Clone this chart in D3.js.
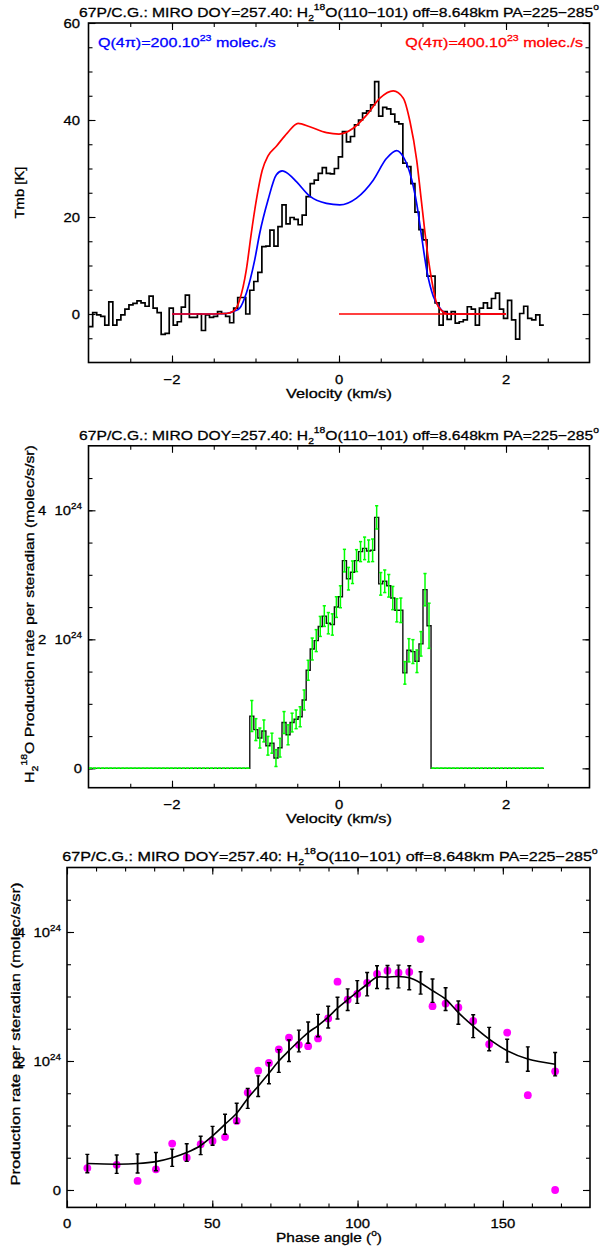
<!DOCTYPE html>
<html>
<head>
<meta charset="utf-8">
<script src="https://cdn.jsdelivr.net/npm/d3@7"></script>
<style>
  html, body { margin: 0; padding: 0; background: #fff; }
  svg { display: block; font-family: "Liberation Sans", Arial, Helvetica, sans-serif; }
</style>
</head>
<body>
<svg id="chart" width="600" height="1249"></svg>
<script>
// ---------------- data ----------------
// Spectral channels: lower edge of the first channel and channel width (km/s)
const chanFirstEdge = -2.998;
const chanWidth = 0.04824;

// Observed H2-18O line, main-beam temperature per channel (K)
const tmbValues = [
  -2.6,
  0.3, -0.2, -0.5, -2.3, 2.5, -2.3, -1.2, -0.2, 1.0, 1.9,
  2.2, 2.7, 2.3, 1.6, 3.7, 1.2, 0.3, -4.2, -4.0, 1.2,
  -2.3, -1.6, 1.4, 3.9, -0.7, -0.7, 0.0, -3.4, -0.2, -0.7,
  -0.5, 0.5, 0.1, -0.5, -1.8, 1.2, 3.4, 3.4, 0.0, 4.9,
  6.7, 8.6, 13.9, 14.0, 17.3, 14.0, 18.0, 22.5, 18.6, 19.9,
  19.5, 18.4, 20.4, 24.2, 26.9, 27.6, 29.0, 30.2, 29.0, 28.9,
  30.0, 32.4, 37.6, 35.5, 36.6, 39.0, 40.0, 41.4, 41.9, 43.1,
  47.9, 40.8, 42.6, 42.3, 41.2, 39.6, 39.2, 31.1, 30.4, 26.9,
  21.0, 17.4, 15.3, 7.8, 7.8, 2.3, -2.3, 0.5, -1.1, 0.5,
  -1.9, -1.6, -1.2, 1.5, 1.0, -2.3, 1.2, 2.3, 1.2, 3.2,
  4.3, 1.0, -0.9, 2.8, -1.2, -5.2, 0.1, 1.6, -0.9, -1.2,
  -0.2, -2.3
];

// Model spectra [velocity km/s, Tmb K]
const modelQ200 = [
  [-2.0, 0], [-1.5, 0], [-1.35, 0.1], [-1.25, 0.6], [-1.19, 1.2], [-1.11, 4.3],
  [-1.01, 11.1], [-0.95, 16.6], [-0.85, 23.5], [-0.75, 28.7], [-0.68, 29.5],
  [-0.60, 28.8], [-0.51, 27.3], [-0.35, 24.3], [-0.15, 22.8], [0.01, 22.5],
  [0.21, 23.9], [0.41, 27.6], [0.57, 32.1], [0.69, 33.7], [0.77, 32.4],
  [0.85, 29.0], [0.93, 22.8], [0.99, 15.9], [1.05, 9.1], [1.13, 3.6],
  [1.21, 1.2], [1.29, 0.1], [1.4, 0], [2.0, 0]
];
const modelQ400 = [
  [-2.0, 0], [-1.5, 0], [-1.35, 0.1], [-1.27, 0.5], [-1.19, 2.9], [-1.11, 9.1],
  [-1.05, 16.7], [-0.99, 23.5], [-0.92, 29.6], [-0.85, 32.6], [-0.75, 34.6],
  [-0.62, 37.3], [-0.49, 39.3], [-0.35, 38.6], [-0.15, 37.4], [0.0, 37.1],
  [0.17, 38.3], [0.33, 41.0], [0.49, 44.5], [0.65, 46.0], [0.77, 44.5],
  [0.85, 39.7], [0.93, 31.8], [0.99, 22.8], [1.05, 13.9], [1.11, 7.0],
  [1.17, 2.2], [1.23, 0.7], [1.31, 0.0], [1.5, 0], [2.0, 0]
];
const baselineSeg = [[0, 0], [2, 0]];

// Production rate per steradian per channel (10^24 molec/s/sr) and 1-sigma errors
const rateValues = [
  0,
  0, 0, 0, 0, 0, 0, 0, 0, 0, 0,
  0, 0, 0, 0, 0, 0, 0, 0, 0, 0,
  0, 0, 0, 0, 0, 0, 0, 0, 0, 0,
  0, 0, 0, 0, 0, 0, 0, 0, 0, 0.81,
  0.60, 0.47, 0.58, 0.35, 0.39, 0.16, 0.32, 0.71, 0.52, 0.71,
  0.76, 0.80, 1.06, 1.52, 1.85, 1.98, 2.20, 2.36, 2.25, 2.23,
  2.50, 2.66, 3.22, 2.94, 3.04, 3.22, 3.36, 3.41, 3.37, 3.38,
  3.89, 2.86, 2.90, 2.83, 2.64, 2.45, 2.45, 1.48, 1.83, 1.81,
  1.66, 1.93, 2.77, 2.21, 0, 0, 0, 0, 0, 0,
  0, 0, 0, 0, 0, 0, 0, 0, 0, 0,
  0, 0, 0, 0, 0, 0, 0, 0, 0, 0,
  0, 0
];
const rateErrors = [
  0,
  0, 0, 0, 0, 0, 0, 0, 0, 0, 0,
  0, 0, 0, 0, 0, 0, 0, 0, 0, 0,
  0, 0, 0, 0, 0, 0, 0, 0, 0, 0,
  0, 0, 0, 0, 0, 0, 0, 0, 0, 0.24,
  0.17, 0.155, 0.17, 0.145, 0.155, 0.13, 0.145, 0.17, 0.155, 0.145,
  0.145, 0.155, 0.155, 0.155, 0.17, 0.17, 0.155, 0.16, 0.165, 0.165,
  0.16, 0.17, 0.175, 0.175, 0.175, 0.17, 0.155, 0.175, 0.17, 0.175,
  0.18, 0.175, 0.175, 0.175, 0.18, 0.18, 0.19, 0.175, 0.18, 0.185,
  0.175, 0.19, 0.25, 0.35, 0, 0, 0, 0, 0, 0,
  0, 0, 0, 0, 0, 0, 0, 0, 0, 0,
  0, 0, 0, 0, 0, 0, 0, 0, 0, 0,
  0, 0
];

// Production rate versus phase angle (deg, 10^24 molec/s/sr)
const phaseAngles = [7.0, 17.1, 24.3, 30.6, 36.2, 41.2, 46.0, 50.1, 54.4, 58.4,
  62.2, 65.8, 69.5, 72.9, 76.4, 79.8, 83.0, 86.4, 89.9, 93.1, 96.6, 99.9,
  103.3, 106.7, 110.3, 114.1, 117.8, 121.7, 125.8, 130.3, 134.7, 139.8,
  145.3, 151.5, 158.6, 168.0, 168.0];
const phaseRates = [0.34, 0.39, 0.14, 0.32, 0.72, 0.50, 0.71, 0.76, 0.82, 1.07,
  1.51, 1.85, 1.97, 2.18, 2.36, 2.25, 2.23, 2.35, 2.66, 3.23, 2.95, 3.04,
  3.21, 3.35, 3.40, 3.37, 3.38, 3.89, 2.85, 2.89, 2.83, 2.62,
  2.26, 2.44, 1.47, 1.84, 0.0];

// Smoothed fit with uncertainties
const fitAngles = [7.0, 17.1, 24.3, 30.6, 36.2, 41.2, 46.0, 50.1, 54.4, 58.4,
  62.2, 65.8, 69.5, 72.9, 76.4, 79.8, 83.0, 86.4, 89.9, 93.1, 96.6, 99.9,
  103.3, 106.7, 110.3, 114.1, 117.8, 121.7, 125.8, 130.3, 134.7, 139.8,
  145.3, 151.5, 158.6, 168.0];
const fitRates = [0.41, 0.40, 0.41, 0.44, 0.50, 0.58, 0.69, 0.84, 1.02, 1.19,
  1.42, 1.61, 1.81, 2.00, 2.16, 2.31, 2.44, 2.55, 2.68, 2.82, 2.95, 3.07,
  3.19, 3.30, 3.30, 3.31, 3.29, 3.21, 3.09, 2.96, 2.75, 2.54,
  2.34, 2.16, 2.03, 1.95];
const fitErrors = [0.142, 0.142, 0.147, 0.142, 0.134, 0.137, 0.142, 0.147, 0.155, 0.155,
  0.155, 0.16, 0.163, 0.176, 0.168, 0.168, 0.165, 0.173, 0.168, 0.168, 0.168, 0.176,
  0.181, 0.176, 0.181, 0.176, 0.186, 0.173, 0.181, 0.176, 0.181, 0.178,
  0.181, 0.178, 0.189, 0.181];

// Tick values
const velTicks = [-2, 0, 2];
const tmbTicks = [0, 20, 40, 60];
const rateTicks = [0, 2, 4];
const phaseTicks = [0, 50, 100, 150];

// ---------------- drawing ----------------
const svg = d3.select("#chart");
const FS = 13.5;      // base font size
const SX = 1.1;       // horizontal stretch of lettering

function richText(parent, parts, fs, anchor, fill) {
  const col = fill || "#000";
  const t = parent.append("text")
    .attr("font-size", fs).attr("text-anchor", anchor).attr("fill", col)
    .attr("stroke", col).attr("stroke-width", 0.3);
  let off = 0;
  parts.forEach(p => {
    const [str, kind] = Array.isArray(p) ? p : [p, ""];
    let target = 0, size = fs;
    if (kind === "sup") { target = -0.45 * fs; size = 0.66 * fs; }
    if (kind === "sub") { target = 0.32 * fs; size = 0.66 * fs; }
    t.append("tspan").attr("dy", (target - off).toFixed(2)).attr("font-size", size).text(str);
    off = target;
  });
  return t;
}
function place(t, x, y, opts = {}) {
  const w = t.node().getComputedTextLength();
  const sx = opts.width ? opts.width / w : (opts.sx || SX);
  t.attr("transform", `translate(${x},${y})` + (opts.rotate ? ` rotate(${opts.rotate})` : "") + ` scale(${sx},1)`);
  return t;
}

function frame(g, x, y, xMajor, xMinor, yMajor, yMinor, id) {
  const [x0, x1] = x.range(), [y0, y1] = y.range();
  const tick = (axis, tx, ty) => g.append("g")
    .attr("transform", `translate(${tx},${ty})`)
    .call(axis)
    .call(s => s.select(".domain").remove())
    .call(s => s.selectAll("line").attr("stroke", "#000").attr("stroke-width", 1.1));
  const MAJ = 7, MIN = 4;
  tick(d3.axisBottom(x).tickValues(xMinor).tickSize(-MIN).tickFormat(""), 0, y0);
  tick(d3.axisBottom(x).tickValues(xMajor).tickSize(-MAJ).tickFormat(""), 0, y0);
  tick(d3.axisTop(x).tickValues(xMinor).tickSize(-MIN).tickFormat(""), 0, y1);
  tick(d3.axisTop(x).tickValues(xMajor).tickSize(-MAJ).tickFormat(""), 0, y1);
  tick(d3.axisLeft(y).tickValues(yMinor).tickSize(-MIN).tickFormat(""), x0, 0);
  tick(d3.axisLeft(y).tickValues(yMajor).tickSize(-MAJ).tickFormat(""), x0, 0);
  tick(d3.axisRight(y).tickValues(yMinor).tickSize(-MIN).tickFormat(""), x1, 0);
  tick(d3.axisRight(y).tickValues(yMajor).tickSize(-MAJ).tickFormat(""), x1, 0);
  g.append("rect").attr("x", x0).attr("y", y1).attr("width", x1 - x0).attr("height", y0 - y1)
    .attr("fill", "none").attr("stroke", "#000").attr("stroke-width", 1.6);
  svg.append("clipPath").attr("id", id).append("rect")
    .attr("x", x0).attr("y", y1).attr("width", x1 - x0).attr("height", y0 - y1);
}

function titleText(g, cx, baseY, width) {
  place(richText(g, ["67P/C.G.: MIRO DOY=257.40: H", ["2", "sub"], ["18", "sup"],
    "O(110\u2212101) off=8.648km PA=225\u2212285", ["o", "sup"]], FS, "middle"), cx, baseY, { width });
}

function stepPoints(values) {
  const pts = [];
  values.forEach((v, i) => {
    const lo = chanFirstEdge + i * chanWidth;
    pts.push([lo, v], [lo + chanWidth, v]);
  });
  return pts;
}
const chanCenter = i => chanFirstEdge + (i + 0.5) * chanWidth;
const fmtVel = v => v < 0 ? "\u2212" + Math.abs(v) : String(v);

// ===== Panel 1: spectrum =====
{
  const g = svg.append("g");
  const x = d3.scaleLinear([-3, 3], [88.5, 589.5]);
  const y = d3.scaleLinear([-10, 60], [362.5, 23]);
  frame(g, x, y, velTicks, d3.range(-2.5, 3, 0.5), tmbTicks, d3.range(-5, 60, 5), "clip1");
  const plot = g.append("g").attr("clip-path", "url(#clip1)");
  const line = d3.line().x(d => x(d[0])).y(d => y(d[1]));
  const smooth = d3.line().x(d => x(d[0])).y(d => y(d[1])).curve(d3.curveMonotoneX);

  plot.append("path").attr("d", line(stepPoints(tmbValues)))
    .attr("fill", "none").attr("stroke", "#000").attr("stroke-width", 1.7);
  plot.append("path").attr("d", smooth(modelQ200))
    .attr("fill", "none").attr("stroke", "#0000ff").attr("stroke-width", 1.7);
  plot.append("path").attr("d", smooth(modelQ400))
    .attr("fill", "none").attr("stroke", "#ff0000").attr("stroke-width", 1.7);
  plot.append("path").attr("d", line(baselineSeg))
    .attr("fill", "none").attr("stroke", "#ff0000").attr("stroke-width", 1.7);

  titleText(g, 339, 16.5, 520);
  place(richText(g, ["Q(4\u03c0)=200.10", ["23", "sup"], " molec./s"], FS, "start", "#0000ff"), 98, 47, { width: 178 });
  place(richText(g, ["Q(4\u03c0)=400.10", ["23", "sup"], " molec./s"], FS, "end", "#ff0000"), 583, 47, { width: 178 });

  velTicks.forEach(v => place(richText(g, [fmtVel(v)], FS, "middle"), x(v), 383.5));
  tmbTicks.forEach(v => place(richText(g, [String(v)], FS, "end"), 80, y(v) + 4.8));
  place(richText(g, ["Velocity (km/s)"], FS, "middle"), 339, 397.5, { width: 106 });
  place(richText(g, ["Tmb [K]"], FS, "middle"), 23.5, 192.5, { rotate: -90 });
}

// ===== Panel 2: production rate per channel =====
{
  const g = svg.append("g");
  const x = d3.scaleLinear([-3, 3], [88.5, 589.5]);
  const y = d3.scaleLinear([-0.3, 5], [787.7, 445.8]);
  frame(g, x, y, velTicks, d3.range(-2.5, 3, 0.5), rateTicks, d3.range(0, 5, 0.5), "clip2");
  const plot = g.append("g").attr("clip-path", "url(#clip2)");
  const line = d3.line().x(d => x(d[0])).y(d => y(d[1]));

  plot.append("path").attr("d", line(stepPoints(rateValues)))
    .attr("fill", "none").attr("stroke", "#111").attr("stroke-width", 1.4);

  const bars = plot.append("g").attr("stroke", "#00ff00").attr("stroke-width", 1.5);
  rateValues.forEach((v, i) => {
    const cx = x(chanCenter(i)), e = rateErrors[i];
    const yt = y(v + e), yb = y(v - e);
    bars.append("line").attr("x1", cx).attr("x2", cx).attr("y1", yt).attr("y2", yb);
    bars.append("line").attr("x1", cx - 1.6).attr("x2", cx + 1.6).attr("y1", yt).attr("y2", yt);
    bars.append("line").attr("x1", cx - 1.6).attr("x2", cx + 1.6).attr("y1", yb).attr("y2", yb);
  });

  titleText(g, 339, 439.5, 520);
  velTicks.forEach(v => place(richText(g, [fmtVel(v)], FS, "middle"), x(v), 808.5));
  rateTicks.forEach(v => {
    const parts = v === 0 ? ["0"] : [v + "\u00a0\u00a010", ["24", "sup"]];
    place(richText(g, parts, FS, "end"), 82, y(v) + 4.8);
  });
  place(richText(g, ["Velocity (km/s)"], FS, "middle"), 339, 822.5, { width: 106 });
  place(richText(g, ["H", ["2", "sub"], ["18", "sup"], "O Production rate per steradian (molec/s/sr)"], FS, "middle"),
    33.5, 614, { rotate: -90, width: 338 });
}

// ===== Panel 3: production rate vs phase angle =====
{
  const g = svg.append("g");
  const x = d3.scaleLinear([0, 180], [67, 590]);
  const y = d3.scaleLinear([-0.27, 5], [1207.4, 867.5]);
  frame(g, x, y, phaseTicks, d3.range(10, 180, 10), rateTicks, d3.range(0, 5, 0.5), "clip3");
  const plot = g.append("g").attr("clip-path", "url(#clip3)");

  plot.append("g").selectAll("circle").data(phaseAngles).join("circle")
    .attr("cx", d => x(d)).attr("cy", (d, i) => y(phaseRates[i])).attr("r", 3.9)
    .attr("fill", "#ff00ff");

  const fit = fitAngles.map((a, i) => [a, fitRates[i]]);
  plot.append("path")
    .attr("d", d3.line().x(d => x(d[0])).y(d => y(d[1])).curve(d3.curveCatmullRom.alpha(0.5))(fit))
    .attr("fill", "none").attr("stroke", "#000").attr("stroke-width", 1.6);
  const bars = plot.append("g").attr("stroke", "#000");
  fitAngles.forEach((a, i) => {
    const cx = x(a), yt = y(fitRates[i] + fitErrors[i]), yb = y(fitRates[i] - fitErrors[i]);
    bars.append("line").attr("x1", cx).attr("x2", cx).attr("y1", yt).attr("y2", yb).attr("stroke-width", 1.9);
    bars.append("line").attr("x1", cx - 2).attr("x2", cx + 2).attr("y1", yt).attr("y2", yt).attr("stroke-width", 1.4);
    bars.append("line").attr("x1", cx - 2).attr("x2", cx + 2).attr("y1", yb).attr("y2", yb).attr("stroke-width", 1.4);
  });

  titleText(g, 330, 860.5, 536);
  phaseTicks.forEach(v => place(richText(g, [String(v)], FS, "middle"), x(v), 1228));
  rateTicks.forEach(v => {
    const parts = v === 0 ? ["0"] : [v + "\u00a0\u00a010", ["24", "sup"]];
    place(richText(g, parts, FS, "end"), 61, y(v) + 4.8);
  });
  place(richText(g, ["Phase angle (", ["o", "sup"], ")"], FS, "middle"), 329, 1242, { width: 106 });
  place(richText(g, ["Production rate per steradian (molec/s/sr)"], FS, "middle"),
    19.5, 1034, { rotate: -90, width: 303 });
}
</script>
</body>
</html>
